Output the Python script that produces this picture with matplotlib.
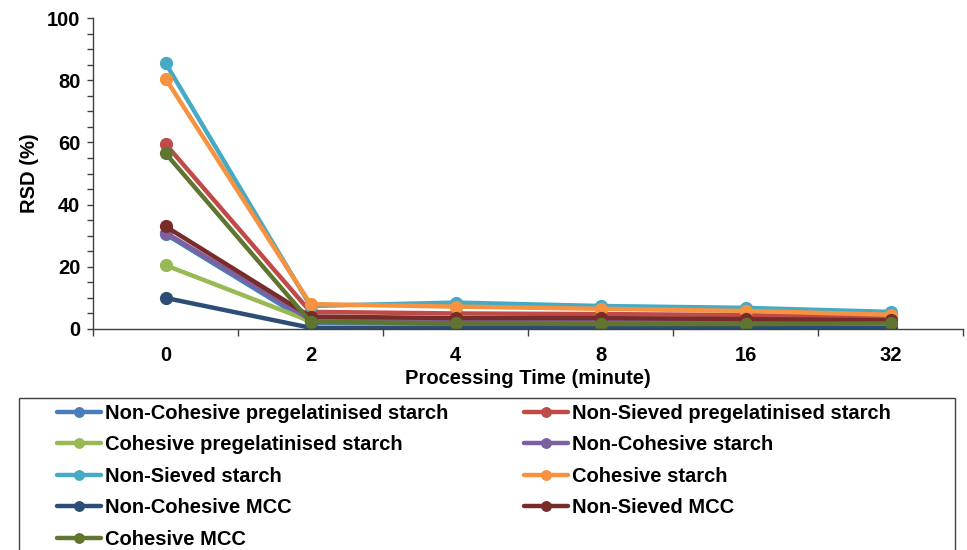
import numpy as np
import matplotlib
matplotlib.use("Agg")
import matplotlib.pyplot as plt
from matplotlib.ticker import MultipleLocator, FixedLocator, NullFormatter
from matplotlib.patches import Rectangle

plt.rcParams['font.family'] = ['Liberation Sans', 'DejaVu Sans']

times = ['0', '2', '4', '8', '16', '32']

nc_pregel = [30.5, 2.0, 2.0, 1.8, 1.5, 1.3]
ns_pregel = [59.5, 5.5, 5.0, 4.8, 4.5, 3.5]
c_pregel = [20.5, 2.5, 2.2, 2.0, 1.8, 1.6]
nc_starch = [31.0, 3.0, 2.8, 2.6, 2.4, 2.2]
ns_starch = [85.5, 7.4, 8.5, 7.4, 6.8, 5.5]
c_starch = [80.5, 8.0, 7.2, 6.5, 5.8, 4.6]
nc_mcc = [10.0, 0.4, 0.5, 0.5, 0.4, 0.3]
ns_mcc = [33.0, 4.0, 3.5, 3.5, 3.2, 2.8]
c_mcc = [56.5, 2.3, 1.8, 1.6, 1.6, 1.8]

names = ['Non-Cohesive pregelatinised starch', 'Non-Sieved pregelatinised starch',
         'Cohesive pregelatinised starch', 'Non-Cohesive starch',
         'Non-Sieved starch', 'Cohesive starch',
         'Non-Cohesive MCC', 'Non-Sieved MCC', 'Cohesive MCC']
series = [nc_pregel, ns_pregel, c_pregel, nc_starch, ns_starch, c_starch, nc_mcc, ns_mcc, c_mcc]
colors = ['#4A7EBB', '#BE4B48', '#98B954', '#7D60A0', '#46AAC5', '#F69240',
          '#2C4D75', '#772C2A', '#5F7530']

fig = plt.figure(figsize=(9.67, 5.5), dpi=100)
ax = fig.add_axes([93/967, 1-329/550, 870/967, 311/550])

x = np.arange(len(times))
handles = []
for vals, name, col in zip(series, names, colors):
    h, = ax.plot(x, vals, color=col, lw=3.2, marker='o', ms=8.5, label=name, solid_capstyle='round')
    handles.append(h)

ax.set_xlim(-0.5, len(times) - 0.5)
ax.set_ylim(0, 100)
ax.yaxis.set_major_locator(MultipleLocator(20))
ax.yaxis.set_minor_locator(MultipleLocator(5))
ax.set_xticks(x)
ax.set_xticklabels(times)
ax.xaxis.set_minor_locator(FixedLocator(np.arange(-0.5, len(times), 1.0)))
ax.xaxis.set_minor_formatter(NullFormatter())

for s in ['top', 'right']:
    ax.spines[s].set_visible(False)
for s in ['left', 'bottom']:
    ax.spines[s].set_color('#404040')
    ax.spines[s].set_linewidth(1)

ax.tick_params(axis='y', which='both', direction='out', length=4, width=1, color='#404040')
ax.tick_params(axis='y', which='major', labelsize=14.5, pad=5)
ax.tick_params(axis='x', which='major', length=0, labelsize=14.5, pad=12)
ax.tick_params(axis='x', which='minor', direction='out', length=5, width=1, color='#404040')
for lab in ax.get_xticklabels() + ax.get_yticklabels():
    lab.set_fontweight('bold')

ax.set_ylabel('RSD (%)', fontsize=14.5, fontweight='bold', labelpad=6)
ax.set_xlabel('Processing Time (minute)', fontsize=14.5, fontweight='bold', labelpad=3)

# legend frame drawn by hand, runs off the bottom like the source
fig.patches.append(Rectangle((19/967, -0.1), 936/967, 1-398/550+0.1, transform=fig.transFigure,
                             fill=False, edgecolor='#404040', lw=1))

left = [handles[i] for i in (0, 2, 4, 6, 8)]
right = [handles[i] for i in (1, 3, 5, 7)]
kw = dict(loc='upper left', frameon=False, handlelength=2.2, handletextpad=0.2,
          borderpad=0, borderaxespad=0, labelspacing=0.62, markerscale=0.8,
          prop={'size': 14.5, 'weight': 'bold'})
fig.legend(handles=left, bbox_to_anchor=(57/967, 1-404/550), **kw)
fig.legend(handles=right, bbox_to_anchor=(524/967, 1-404/550), **kw)

fig.savefig('out.png', dpi=100)
